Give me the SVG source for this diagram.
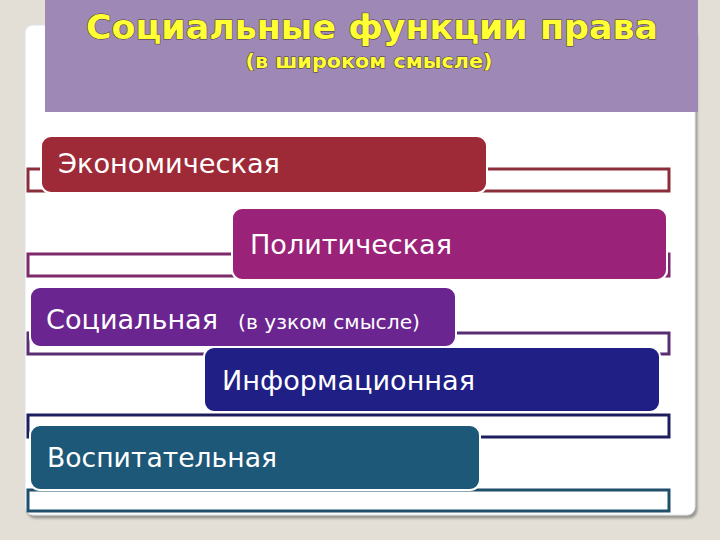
<svg xmlns="http://www.w3.org/2000/svg" width="720" height="540" viewBox="0 0 720 540">
<defs>
<style>
.lbl{font-family:"DejaVu Sans","Liberation Sans",sans-serif;fill:#ffffff;}
.ttl{font-family:"DejaVu Sans","Liberation Sans",sans-serif;font-weight:bold;fill:#ffff33;stroke:#4a3a2a;stroke-width:1;paint-order:stroke;}
.box{stroke:#ffffff;stroke-width:2;}
.frame{fill:none;stroke-width:3;}
</style>
<filter id="sh" x="-5%" y="-5%" width="110%" height="110%">
<feDropShadow dx="2" dy="3" stdDeviation="1" flood-color="#8a8680" flood-opacity="0.8"/>
</filter>
</defs>
<rect width="720" height="540" fill="#e3dfd6"/>
<rect x="25" y="25" width="670" height="490" rx="8" fill="#ffffff" stroke="#dde3ea" stroke-width="1" filter="url(#sh)"/>
<g id="header">
<rect x="45" y="0" width="653" height="112" fill="#9e88b6"/>
<text class="ttl" x="372" y="39" font-size="33" text-anchor="middle" textLength="572" lengthAdjust="spacingAndGlyphs">Социальные функции права</text>
<text class="ttl" x="369" y="68" font-size="19" text-anchor="middle" textLength="247" lengthAdjust="spacingAndGlyphs">(в широком смысле)</text>
</g>
<g id="connectors">
<rect class="frame" x="28" y="169" width="641" height="22" stroke="#8b2d3a"/>
<rect class="frame" x="28" y="254" width="641" height="22" stroke="#7e2a6c"/>
<rect class="frame" x="28" y="333" width="641" height="21" stroke="#5a2d72"/>
<rect class="frame" x="28" y="415" width="641" height="22" stroke="#1e1e5e"/>
<rect class="frame" x="28" y="490" width="641" height="21" stroke="#1f4f6b"/>
</g>
<g id="economic">
<rect class="box" x="41" y="136" width="446" height="57" rx="10" fill="#9e2a37"/>
<text class="lbl" x="58" y="173" font-size="27" textLength="222" lengthAdjust="spacingAndGlyphs">Экономическая</text>
</g>
<g id="political">
<rect class="box" x="232" y="208" width="435" height="72" rx="10" fill="#9a2278"/>
<text class="lbl" x="250" y="254" font-size="27" textLength="202" lengthAdjust="spacingAndGlyphs">Политическая</text>
</g>
<g id="social">
<rect class="box" x="30" y="287" width="426" height="60" rx="10" fill="#6a2590"/>
<text class="lbl" x="46" y="329" font-size="27" textLength="172" lengthAdjust="spacingAndGlyphs">Социальная</text>
<text class="lbl" x="238" y="329" font-size="20" textLength="182" lengthAdjust="spacingAndGlyphs">(в узком смысле)</text>
</g>
<g id="information">
<rect class="box" x="204" y="347" width="456" height="65" rx="10" fill="#1f1f85"/>
<text class="lbl" x="222" y="390" font-size="27" textLength="253" lengthAdjust="spacingAndGlyphs">Информационная</text>
</g>
<g id="educational">
<rect class="box" x="30" y="425" width="450" height="65" rx="10" fill="#1d5878"/>
<text class="lbl" x="47" y="467" font-size="27" textLength="230" lengthAdjust="spacingAndGlyphs">Воспитательная</text>
</g>
</svg>
